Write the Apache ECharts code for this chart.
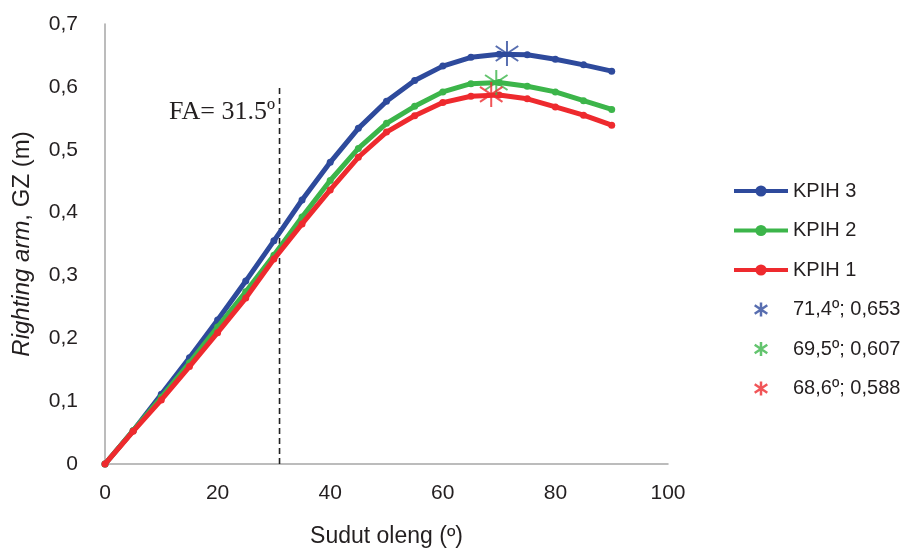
<!DOCTYPE html>
<html>
<head>
<meta charset="utf-8">
<script src="https://cdn.jsdelivr.net/npm/echarts@6/dist/echarts.min.js"></script>
<style>
  html,body{margin:0;padding:0;background:#fff;}
  #main{width:908px;height:553px;}
</style>
</head>
<body>
<div id="main"></div>
<script>
  // sudut oleng (derajat)
  var angles = [0, 5, 10, 15, 20, 25, 30, 35, 40, 45, 50, 55, 60, 65, 70, 75, 80, 85, 90];
  var kpih3 = [0, 0.053, 0.111, 0.169, 0.229, 0.291, 0.355, 0.420, 0.480, 0.534, 0.577, 0.610, 0.633, 0.647, 0.652, 0.651, 0.644, 0.635, 0.625];
  var kpih2 = [0, 0.053, 0.106, 0.161, 0.218, 0.274, 0.332, 0.393, 0.451, 0.502, 0.542, 0.569, 0.592, 0.605, 0.607, 0.601, 0.592, 0.578, 0.564];
  var kpih1 = [0, 0.052, 0.102, 0.155, 0.209, 0.264, 0.326, 0.382, 0.436, 0.488, 0.528, 0.554, 0.575, 0.585, 0.587, 0.581, 0.568, 0.555, 0.539];
  var seriesNames = ['KPIH 3', 'KPIH 2', 'KPIH 1'];
  var peakAngles = [71.4, 69.5, 68.6];
  var peakValues = [0.653, 0.607, 0.588];
  var peakNames = ['71,4º; 0,653', '69,5º; 0,607', '68,6º; 0,588'];
  var faAngle = 31;
  var faTop = 0.598;

  var colors = ['#2e4a9c', '#3cb54a', '#ee2a2e'];
  var starPath = 'path://M10,0L10,20M1,4L19,16M1,16L19,4';
  var font = 'Liberation Sans, Arial, sans-serif';

  function pairs(xs, ys){
    return xs.map(function(x, i){ return [x, ys[i]]; });
  }

  var curves = [kpih3, kpih2, kpih1];
  var series = [];
  curves.forEach(function(c, i){
    series.push({
      name: seriesNames[i],
      type: 'line',
      data: pairs(angles, c),
      symbol: 'circle',
      symbolSize: 7,
      lineStyle: {width: 5, color: colors[i]},
      itemStyle: {color: colors[i]},
      z: 2 + i
    });
  });
  // garis FA
  series.push({
    name: 'FA',
    type: 'line',
    data: [[faAngle, 0], [faAngle, faTop]],
    symbol: 'none',
    clip: false,
    silent: true,
    lineStyle: {color: '#222', type: [6, 4], width: 1.6},
    z: 1
  });
  peakNames.forEach(function(n, i){
    series.push({
      name: n,
      type: 'scatter',
      data: [[peakAngles[i], peakValues[i]]],
      symbol: starPath,
      symbolKeepAspect: true,
      symbolSize: 25,
      itemStyle: {color: colors[i], borderColor: colors[i], borderWidth: 2},
      z: 10
    });
  });

  var legendData = seriesNames.map(function(n){
    return {name: n, lineStyle: {width: 4}};
  }).concat(peakNames.map(function(n, i){
    return {name: n, itemStyle: {borderWidth: 2.5, borderColor: colors[i]}};
  }));

  var chart = echarts.init(document.getElementById('main'));
  var option = {
    animation: false,
    backgroundColor: '#fff',
    grid: {left: 105, right: 240, top: 24, bottom: 87},
    legend: {
      orient: 'vertical',
      left: 727,
      top: 176,
      itemWidth: 54,
      itemHeight: 14,
      itemGap: 19.5,
      textStyle: {fontSize: 20, color: '#231f20', fontFamily: font},
      data: legendData
    },
    xAxis: {
      type: 'value',
      min: 0,
      max: 100,
      interval: 20,
      name: 'Sudut oleng (º)',
      nameLocation: 'middle',
      nameGap: 61,
      nameTextStyle: {fontSize: 23, color: '#231f20', fontFamily: font},
      axisLine: {show: true, onZero: false, lineStyle: {color: '#a6a6a6', width: 1.5}},
      axisTick: {show: false},
      splitLine: {show: false},
      axisLabel: {fontSize: 21, color: '#231f20', fontFamily: font, margin: 19}
    },
    yAxis: {
      type: 'value',
      min: 0,
      max: 0.7,
      interval: 0.1,
      name: '{i|Righting arm}, GZ (m)',
      nameLocation: 'middle',
      nameGap: 71,
      nameTextStyle: {
        fontSize: 24, color: '#231f20', fontFamily: font,
        rich: {i: {fontSize: 24, fontStyle: 'italic', color: '#231f20', fontFamily: font}}
      },
      axisLine: {show: true, lineStyle: {color: '#a6a6a6', width: 1.5}},
      axisTick: {show: false},
      splitLine: {show: false},
      axisLabel: {
        fontSize: 21, color: '#231f20', fontFamily: font, margin: 27,
        formatter: function(v){ return v === 0 ? '0' : v.toFixed(1).replace('.', ','); }
      }
    },
    graphic: [{
      type: 'text',
      right: 908 - 275,
      top: 99,
      style: {text: 'FA= 31.5º', fontSize: 26, fontFamily: 'Liberation Serif, Times New Roman, serif', fill: '#231f20'}
    }],
    series: series
  };
  chart.setOption(option);
</script>
</body>
</html>
